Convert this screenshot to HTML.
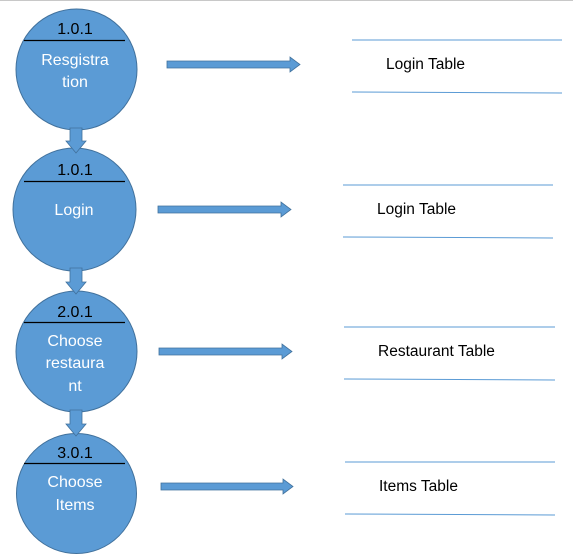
<!DOCTYPE html>
<html><head><style>body{margin:0;background:#fff}svg{display:block}</style></head><body>
<svg width="573" height="560" viewBox="0 0 573 560" xmlns="http://www.w3.org/2000/svg" font-family="'Liberation Sans', sans-serif">
<line x1="0" y1="0.5" x2="573" y2="0.5" stroke="#c8c8c8" stroke-width="1"/>
<g fill="#5b9bd5" stroke="#41719c" stroke-width="1">
<circle cx="76.5" cy="69.5" r="60.5"/>
<circle cx="74.5" cy="209.5" r="61.5"/>
<circle cx="76.5" cy="351.5" r="60.5"/>
<circle cx="76.5" cy="493.5" r="60"/>
</g>
<g fill="#5b9bd5" stroke="#41719c" stroke-width="0.8">
<polygon points="70,128 82,128 82,141 86,141 76,153 66,141 70,141"/>
<polygon points="70,268 82,268 82,282 86,282 76,294 66,282 70,282"/>
<polygon points="70,410 82,410 82,424 86,424 76,436 66,424 70,424"/>
<polygon points="167,61 290,61 290,57 300,64.5 290,72 290,68 167,68"/>
<polygon points="158,206 281,206 281,202 291,209.5 281,217 281,213 158,213"/>
<polygon points="159,348 282,348 282,344 292,351.5 282,359 282,355 159,355"/>
<polygon points="161,483 283,483 283,479 293,486.5 283,494 283,490 161,490"/>
</g>
<g stroke="#000" stroke-width="1.2">
<line x1="24" y1="40.5" x2="125" y2="40.5"/>
<line x1="24" y1="181.5" x2="125" y2="181.5"/>
<line x1="24" y1="322.5" x2="125" y2="322.5"/>
<line x1="24" y1="463.5" x2="125" y2="463.5"/>
</g>
<g font-size="16" fill="#000" text-anchor="middle">
<text x="75" y="34">1.0.1</text>
<text x="75" y="175">1.0.1</text>
<text x="75" y="317">2.0.1</text>
<text x="75" y="458">3.0.1</text>
</g>
<g font-size="16" fill="#fff" text-anchor="middle">
<text x="75" y="65">Resgistra</text>
<text x="75" y="87">tion</text>
<text x="74" y="215">Login</text>
<text x="75" y="346">Choose</text>
<text x="75" y="368">restaura</text>
<text x="75" y="391">nt</text>
<text x="75" y="487">Choose</text>
<text x="75" y="510">Items</text>
</g>
<g stroke="#5b9bd5" stroke-width="1">
<line x1="352" y1="40" x2="562" y2="40"/><line x1="352" y1="92" x2="562" y2="93"/>
<line x1="343" y1="185" x2="553" y2="185"/><line x1="343" y1="237" x2="553" y2="238"/>
<line x1="344" y1="327" x2="555" y2="327"/><line x1="344" y1="379" x2="555" y2="380"/>
<line x1="345" y1="462" x2="555" y2="462"/><line x1="345" y1="514" x2="555" y2="515"/>
</g>
<g font-size="15.5" fill="#000">
<text x="386" y="69">Login Table</text>
<text x="377" y="214">Login Table</text>
<text x="378" y="356">Restaurant Table</text>
<text x="379" y="491">Items Table</text>
</g>
</svg>
</body></html>
